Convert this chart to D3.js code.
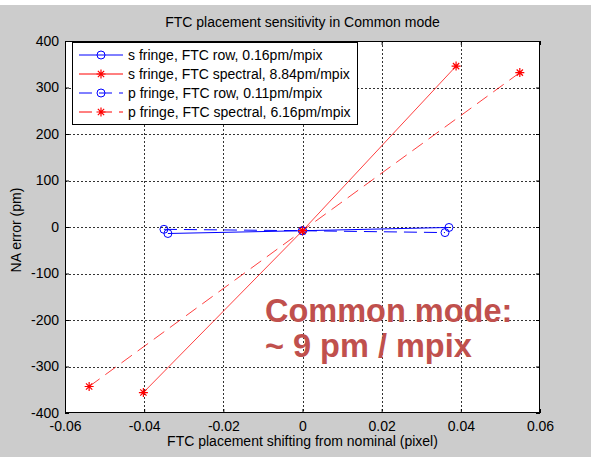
<!DOCTYPE html>
<html lang="en">
<head>
    <meta charset="UTF-8">
    <title>FTC placement sensitivity in Common mode</title>
    <script src="https://cdn.jsdelivr.net/npm/d3@7"></script>
    <style>
        body { margin: 0; background: #fff; }
        svg { display: block; }
        text { font-family: Arial, "Liberation Sans", sans-serif; fill: #000; }
    </style>
</head>
<body>
<script>
    // data
    var xTicks = [-0.06, -0.04, -0.02, 0, 0.02, 0.04, 0.06];
    var yTicks = [-400, -300, -200, -100, 0, 100, 200, 300, 400];

    var sRowX = [-0.034, 0, 0.037];
    var sRowY = [-14, -8, -1];
    var sSpecX = [-0.0402, 0, 0.0388];
    var sSpecY = [-356, -8, 346];
    var pRowX = [-0.035, 0, 0.036];
    var pRowY = [-5, -8, -12];
    var pSpecX = [-0.0539, 0, 0.0549];
    var pSpecY = [-343, -8, 332];

    var seriesNames = ["s fringe, FTC row, 0.16pm/mpix",
                       "s fringe, FTC spectral, 8.84pm/mpix",
                       "p fringe, FTC row, 0.11pm/mpix",
                       "p fringe, FTC spectral, 6.16pm/mpix"];

    var w = 591, h = 457;
    var mLeft = 65, mRight = 540, mTop = 41, mBottom = 413;

    var series = [
        { name: seriesNames[0], xs: sRowX, ys: sRowY, color: "#0000ff", dash: null, mark: "o" },
        { name: seriesNames[1], xs: sSpecX, ys: sSpecY, color: "#ff0000", dash: null, mark: "*" },
        { name: seriesNames[2], xs: pRowX, ys: pRowY, color: "#0000ff", dash: "13,7", mark: "o" },
        { name: seriesNames[3], xs: pSpecX, ys: pSpecY, color: "#ff0000", dash: "13,7", mark: "*" }
    ];

    var svg = d3.select("body").append("svg")
        .attr("width", w)
        .attr("height", h);

    // figure background (white strip on top, like the screenshot)
    svg.append("rect").attr("x", 0).attr("y", 5).attr("width", w).attr("height", h - 5).attr("fill", "#cccccc");

    var x = d3.scaleLinear().domain([-0.06, 0.06]).range([mLeft, mRight]);
    var y = d3.scaleLinear().domain([-400, 400]).range([mBottom, mTop]);

    svg.append("rect")
        .attr("x", mLeft).attr("y", mTop)
        .attr("width", mRight - mLeft).attr("height", mBottom - mTop)
        .attr("fill", "#fff");

    // dotted grid
    var grid = svg.append("g").attr("stroke", "#333").attr("stroke-width", 1).attr("stroke-dasharray", "2,2");
    grid.selectAll("line.gx").data(xTicks.slice(1, -1)).enter().append("line")
        .attr("x1", function(d) { return Math.round(x(d)) + 0.5; })
        .attr("x2", function(d) { return Math.round(x(d)) + 0.5; })
        .attr("y1", mTop).attr("y2", mBottom);
    grid.selectAll("line.gy").data(yTicks.slice(1, -1)).enter().append("line")
        .attr("y1", function(d) { return Math.round(y(d)) + 0.5; })
        .attr("y2", function(d) { return Math.round(y(d)) + 0.5; })
        .attr("x1", mLeft).attr("x2", mRight);

    // axes (ticks inside, matlab style)
    var fmtX = function(d) { return d === 0 ? "0" : d.toFixed(2); };
    var fmtY = function(d) { return String(d); };
    var xAxis = svg.append("g").attr("transform", "translate(0," + mBottom + ")")
        .call(d3.axisBottom(x).tickValues(xTicks).tickFormat(fmtX).tickSizeInner(-4).tickSizeOuter(0).tickPadding(8));
    var xAxisTop = svg.append("g").attr("transform", "translate(0," + mTop + ")")
        .call(d3.axisTop(x).tickValues(xTicks).tickFormat("").tickSizeInner(-4).tickSizeOuter(0));
    var yAxis = svg.append("g").attr("transform", "translate(" + mLeft + ",0)")
        .call(d3.axisLeft(y).tickValues(yTicks).tickFormat(fmtY).tickSizeInner(-4).tickSizeOuter(0).tickPadding(6));
    var yAxisRight = svg.append("g").attr("transform", "translate(" + mRight + ",0)")
        .call(d3.axisRight(y).tickValues(yTicks).tickFormat("").tickSizeInner(-4).tickSizeOuter(0));

    [xAxis, xAxisTop, yAxis, yAxisRight].forEach(function(g) {
        g.select(".domain").remove();
        g.selectAll("line").attr("stroke", "#000");
        g.selectAll("text").attr("font-size", "14px").attr("font-family", "Arial, 'Liberation Sans', sans-serif").attr("fill", "#111");
    });

    svg.append("rect")
        .attr("x", mLeft + 0.5).attr("y", mTop + 0.5)
        .attr("width", mRight - mLeft - 1).attr("height", mBottom - mTop - 1)
        .attr("fill", "none").attr("stroke", "#000");

    // lines and markers
    var line = d3.line().x(function(d) { return x(d[0]); }).y(function(d) { return y(d[1]); });

    function drawMarker(g, mark, color, cx, cy) {
        if (mark === "o") {
            g.append("circle").attr("cx", cx).attr("cy", cy).attr("r", 4)
                .attr("fill", "none").attr("stroke", color).attr("stroke-width", 1);
        } else {
            var r = 4.5;
            var p = "M" + (cx - r) + "," + cy + "H" + (cx + r) +
                    "M" + cx + "," + (cy - r) + "V" + (cy + r) +
                    "M" + (cx - r * 0.7) + "," + (cy - r * 0.7) + "L" + (cx + r * 0.7) + "," + (cy + r * 0.7) +
                    "M" + (cx - r * 0.7) + "," + (cy + r * 0.7) + "L" + (cx + r * 0.7) + "," + (cy - r * 0.7);
            g.append("path").attr("d", p).attr("stroke", color).attr("stroke-width", 1.2).attr("fill", "none");
        }
    }

    var plot = svg.append("g");
    series.forEach(function(s) {
        var pts = s.xs.map(function(v, i) { return [v, s.ys[i]]; });
        plot.append("path").datum(pts).attr("d", line)
            .attr("fill", "none").attr("stroke", s.color).attr("stroke-width", 1)
            .attr("stroke-opacity", s.color === "#ff0000" ? 0.75 : 1)
            .attr("stroke-dasharray", s.dash);
        pts.forEach(function(p) { drawMarker(plot, s.mark, s.color, x(p[0]), y(p[1])); });
    });

    // legend
    var lg = svg.append("g");
    lg.append("rect").attr("x", 72.5).attr("y", 42.5).attr("width", 285).attr("height", 82)
        .attr("fill", "#fff").attr("stroke", "#000");
    var legY = [55, 74, 93, 112];
    series.forEach(function(s, i) {
        lg.append("line").attr("x1", 79).attr("x2", 123).attr("y1", legY[i]).attr("y2", legY[i])
            .attr("stroke", s.color).attr("stroke-width", 1).attr("stroke-dasharray", s.dash);
        drawMarker(lg, s.mark, s.color, 101, legY[i]);
        lg.append("text").attr("x", 128).attr("y", legY[i] + 5)
            .attr("font-size", "14px").text(s.name);
    });

    // title and axis labels
    svg.append("text").attr("x", (mLeft + mRight) / 2).attr("y", 27)
        .attr("text-anchor", "middle").attr("font-size", "14px")
        .text("FTC placement sensitivity in Common mode");
    svg.append("text").attr("x", (mLeft + mRight) / 2).attr("y", 446)
        .attr("text-anchor", "middle").attr("font-size", "14px")
        .text("FTC placement shifting from nominal (pixel)");
    svg.append("text").attr("transform", "translate(21," + 230 + ") rotate(-90)")
        .attr("text-anchor", "middle").attr("font-size", "14px")
        .text("NA error (pm)");

    // slide annotation
    var note = svg.append("g").attr("font-family", "Lato, 'Liberation Sans', sans-serif")
        .attr("font-weight", "bold").attr("font-size", "32.5px");
    note.append("text").attr("x", 265).attr("y", 322).style("fill", "#c0504d").text("Common mode:");
    note.append("text").attr("x", 265).attr("y", 357).style("fill", "#c0504d").text("~ 9 pm / mpix");
</script>
</body>
</html>
